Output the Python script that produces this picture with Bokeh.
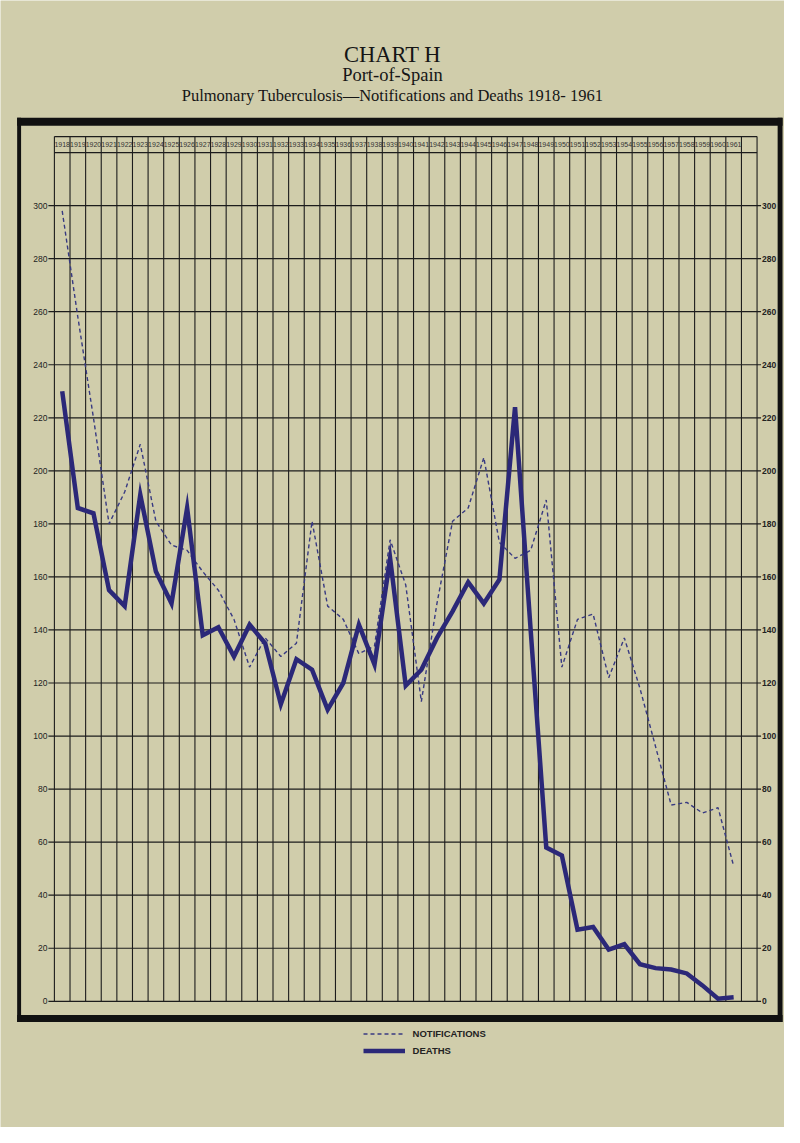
from bokeh.plotting import figure
from bokeh.models import (Range1d, Label, BoxAnnotation, Legend, LegendItem,
                          ColumnDataSource)
from bokeh.core.properties import value
from bokeh.embed import file_html
from bokeh.resources import INLINE

# ---- data ----
years = list(range(1918, 1962))
year_labels = [str(y) for y in years]
deaths = [230, 186, 184, 155, 149, 191, 162, 150, 186, 138, 141, 130,
          142, 135, 112, 129, 125, 110, 120, 142, 127, 167,
          119, 125, 137, 147, 158, 150, 159, 224, 140, 58,
          55, 27, 28, 19.5, 21.5, 14, 12.5, 12, 10.5, 6, 1, 1.5]
notifications = [298, 258, 220, 180, 192, 210, 181, 172, 170, 162, 155, 144,
                 126, 137, 130, 135, 181, 149, 144, 131, 134, 174,
                 157, 113, 150, 181, 186, 205, 173, 167, 170, 189,
                 126, 144, 146, 122, 137, 118, 96, 74, 75, 71, 73, 51]
y_ticks = list(range(0, 301, 20))
y_tick_labels = [str(t) for t in y_ticks]

BG = "#d0cdab"
INK = "#1c1c1c"
DEATH_C = "#2b2878"
NOTIF_C = "#383a82"

# ---- geometry (pixels, top-down, then converted to ranges) ----
W, H = 784, 1127
SX, SY = W / 800, H / 1143
GRID_L, GRID_R = 55 * SX, 772 * SX          # grid left/right edges
Y0_PX, Y300_PX = 1015 * SY, 208 * SY        # pixel rows of 0 and 300
PPY = (GRID_R - GRID_L) / 45                # pixels per year column
PPU = (Y0_PX - Y300_PX) / 300               # pixels per unit
X_START = years[0] - 0.5 - GRID_L / PPY
X_END = X_START + W / PPY
Y_END = Y0_PX / PPU
Y_START = Y_END - H / PPU
TOP_VAL = (Y0_PX - 138 * SY) / PPU          # top edge of grid (header top)
HEAD_VAL = 320                              # header bottom line
X_L = years[0] - 0.5
X_R = years[-1] + 1.5

p = figure(width=W, height=H, output_backend="svg", toolbar_location=None,
           x_range=Range1d(X_START, X_END), y_range=Range1d(Y_START, Y_END),
           x_axis_location=None, y_axis_location=None,
           min_border=0, min_border_left=0, min_border_right=0,
           min_border_top=0, min_border_bottom=0,
           background_fill_color=BG, border_fill_color=BG,
           outline_line_color=None)
p.grid.visible = False

# ---- grid drawn from the year boundaries and value ticks ----
vx = [y - 0.5 for y in years] + [X_R - 1, X_R]
p.segment(x0=vx, y0=0, x1=vx, y1=TOP_VAL, line_color=INK, line_width=1.1)
ext_l = 6 / PPY
ext_r = 4 / PPY
p.segment(x0=X_L - ext_l, y0=y_ticks, x1=X_R + ext_r, y1=y_ticks,
          line_color=INK, line_width=1.2)
p.segment(x0=X_L, y0=[HEAD_VAL, TOP_VAL], x1=X_R, y1=[HEAD_VAL, TOP_VAL],
          line_color=INK, line_width=1.2)

# ---- value labels both sides ----
p.text(x=X_L - 7 / PPY, y=y_ticks, text=y_tick_labels, text_align="right",
       text_baseline="middle", text_font=value("Liberation Sans"),
       text_font_size="8.5px", text_color="#222222")
p.text(x=X_R + 5 / PPY, y=y_ticks, text=y_tick_labels, text_align="left",
       text_baseline="middle", text_font=value("Liberation Sans"),
       text_font_style="bold", text_font_size="8.5px", text_color="#222222")

src = ColumnDataSource(dict(year=years, deaths=deaths, notif=notifications,
                            label=year_labels))

# header of years
p.text(x="year", y=(HEAD_VAL + TOP_VAL) / 2, text="label", source=src,
       text_align="center", text_baseline="middle",
       text_font=value("Liberation Sans"), text_font_size="7px",
       text_color="#333333")

rn = p.line("year", "notif", source=src, line_color=NOTIF_C, line_width=1.4,
            line_dash="4 3")
rd = p.line("year", "deaths", source=src, line_color=DEATH_C, line_width=4.5,
            line_join="miter")

# ---- thick black frame round the chart ----
def band(x0, x1, y_top, y_bot):
    p.add_layout(BoxAnnotation(left=x0 * SX, right=x1 * SX,
                               top=H - y_top * SY, bottom=H - y_bot * SY,
                               left_units="screen", right_units="screen",
                               bottom_units="screen", top_units="screen",
                               fill_color="#111111", fill_alpha=1,
                               line_color=None))

band(17, 798, 119, 127)     # top
band(17, 798, 1029, 1036)   # bottom
band(17, 21, 119, 1036)     # left
band(793, 798, 119, 1036)   # right

# ---- titles ----
def title(txt, y_page, size):
    p.add_layout(Label(x=400 * SX, y=H - y_page * SY, x_units="screen",
                       y_units="screen", text=txt, text_align="center",
                       text_baseline="middle", text_font="Liberation Serif",
                       text_font_size=size, text_color="#151515"))

title("CHART H", 55, "22.5px")
title("Port-of-Spain", 76, "18.5px")
title("Pulmonary Tuberculosis\u2014Notifications and Deaths 1918- 1961", 96, "16.5px")

# ---- legend (location = bottom-left corner, measured from canvas bottom) ----
legend = Legend(items=[LegendItem(label="NOTIFICATIONS", renderers=[rn]),
                       LegendItem(label="DEATHS", renderers=[rd])],
                location=(370 * SX, H - 1074.5 * SY), orientation="vertical",
                background_fill_alpha=0, border_line_alpha=0,
                padding=0, margin=0, spacing=0,
                glyph_width=42, glyph_height=17, label_height=17,
                label_standoff=8,
                label_text_font="Liberation Sans", label_text_font_size="9.5px",
                label_text_font_style="bold", label_text_color="#222222")
p.add_layout(legend)

open("out.html", "w").write(file_html(p, INLINE))
